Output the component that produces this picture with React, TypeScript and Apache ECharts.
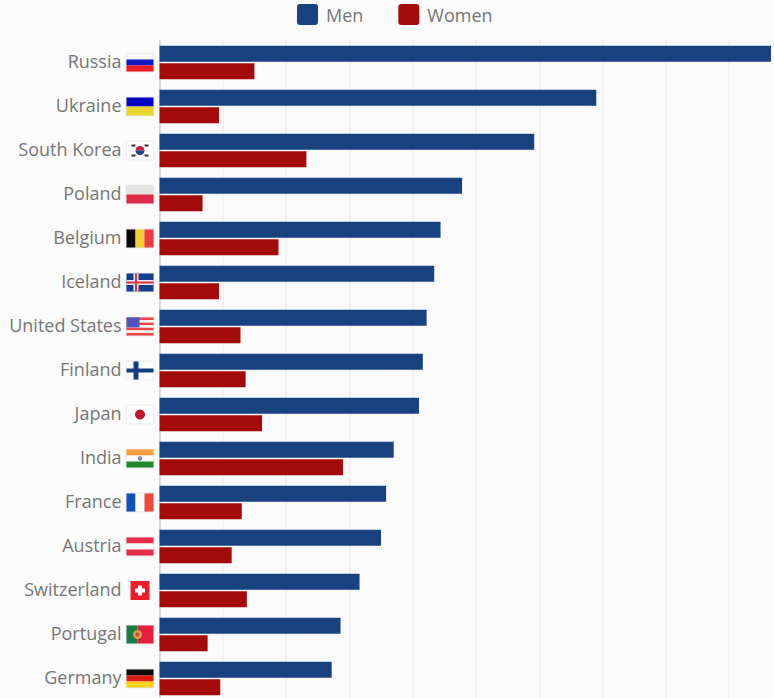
import React, { useEffect, useRef } from "react";
import * as echarts from "echarts";

const countries = ["Russia", "Ukraine", "South Korea", "Poland", "Belgium", "Iceland", "United States", "Finland", "Japan", "India", "France", "Austria", "Switzerland", "Portugal", "Germany"];
const men = [48.3, 34.5, 29.6, 23.9, 22.2, 21.7, 21.1, 20.8, 20.5, 18.5, 17.9, 17.5, 15.8, 14.3, 13.6];
const women = [7.5, 4.7, 11.6, 3.4, 9.4, 4.7, 6.4, 6.8, 8.1, 14.5, 6.5, 5.7, 6.9, 3.8, 4.8];

const FW = 27;
const FH = 18;
const rect = (x: number, y: number, width: number, height: number, fill: string) => ({
  type: "rect", shape: { x, y, width, height }, style: { fill },
});
const circle = (cx: number, cy: number, r: number, fill: string) => ({
  type: "circle", shape: { cx, cy, r }, style: { fill },
});
const hBands = (colors: string[]) => colors.map((c, i) => rect(0, (i * FH) / colors.length, FW, FH / colors.length, c));
const vBands = (colors: string[]) => colors.map((c, i) => rect((i * FW) / colors.length, 0, FW / colors.length, FH, c));

// Each flag is built from simple shapes in a 27x18 local box.
const flags: Record<string, () => any[]> = {
  Russia: () => hBands(["#f8f8f8", "#0b18c4", "#ee1c25"]),
  Ukraine: () => hBands(["#0606c4", "#ecd52c"]),
  "South Korea": () => [
    rect(0, 0, FW, FH, "#ffffff"),
    { type: "sector", shape: { cx: 13.5, cy: 9, r: 4.5, startAngle: Math.PI, endAngle: 2 * Math.PI }, style: { fill: "#c8203a" } },
    { type: "sector", shape: { cx: 13.5, cy: 9, r: 4.5, startAngle: 0, endAngle: Math.PI }, style: { fill: "#1c3f94" } },
    rect(5, 3, 4, 2, "#333333"), rect(18, 3, 4, 2, "#333333"),
    rect(5, 13, 4, 2, "#333333"), rect(18, 13, 4, 2, "#333333"),
  ],
  Poland: () => hBands(["#e4e4e4", "#dc2c48"]),
  Belgium: () => vBands(["#0a0a0a", "#f4cd32", "#ef3b40"]),
  Iceland: () => [
    rect(0, 0, FW, FH, "#12408c"),
    rect(7, 0, 5, FH, "#e8e8f0"), rect(0, 6.5, FW, 5, "#e8e8f0"),
    rect(8.5, 0, 2, FH, "#d8343c"), rect(0, 8, FW, 2, "#d8343c"),
  ],
  "United States": () => [
    ...hBands(["#ee4444", "#f8f8f8", "#ee4444", "#f8f8f8", "#ee4444", "#f8f8f8", "#ee4444"]),
    rect(0, 0, 13, 10, "#5353c0"),
  ],
  Finland: () => [
    rect(0, 0, FW, FH, "#ffffff"),
    rect(7, 0, 5, FH, "#123c80"), rect(0, 7, FW, 4, "#123c80"),
  ],
  Japan: () => [rect(0, 0, FW, FH, "#ffffff"), circle(13.5, 9, 5, "#c4122f")],
  India: () => [...hBands(["#ff9d3c", "#ffffff", "#1e8c2a"]), circle(13.5, 9, 2.4, "#8890b8")],
  France: () => vBands(["#1450b8", "#ffffff", "#ee4a3c"]),
  Austria: () => hBands(["#e92c48", "#ffffff", "#e92c48"]),
  Switzerland: () => [
    rect(4, -0.5, 19, 19, "#ee1c25"),
    rect(11.5, 4, 4, 10, "#ffffff"), rect(8.5, 7, 10, 4, "#ffffff"),
  ],
  Portugal: () => [
    rect(0, 0, 11, FH, "#1c7c46"), rect(11, 0, 16, FH, "#e6203c"),
    circle(11, 9, 4.5, "#d4a24a"), circle(11, 9, 2.2, "#c8503c"),
  ],
  Germany: () => hBands(["#0a0a0a", "#dd1a10", "#ffcf20"]),
};

const LABEL_COLOR = "#767676";
const FONT = "'Open Sans'";
const LEGEND_ICON = "path://M3 0H18A3 3 0 0 1 21 3V18A3 3 0 0 1 18 21H3A3 3 0 0 1 0 18V3A3 3 0 0 1 3 0Z";

export default function App() {
  const ref = useRef<HTMLDivElement>(null);

  useEffect(() => {
    const chart = echarts.init(ref.current!, undefined, { renderer: "svg" });
    chart.setOption({
      animation: false,
      backgroundColor: "#fbfbfb",
      textStyle: { fontFamily: FONT },
      legend: {
        data: ["Men", "Women"],
        left: 297,
        top: 4,
        padding: 0,
        itemWidth: 21,
        itemHeight: 21,
        itemGap: 35,
        icon: LEGEND_ICON,
        textStyle: { color: LABEL_COLOR, fontSize: 18, fontFamily: FONT, padding: [0, 0, 0, 3] },
      },
      grid: { left: 159.5, top: 40.5, width: 633, height: 660 },
      xAxis: {
        type: "value",
        min: 0,
        max: 50,
        interval: 5,
        axisLabel: { show: false },
        axisTick: { show: false },
        axisLine: { show: false },
        splitLine: { show: true, lineStyle: { color: "#efefef", width: 1.5 } },
      },
      yAxis: {
        type: "category",
        inverse: true,
        data: countries,
        axisTick: { show: false },
        axisLine: { show: true, lineStyle: { color: "#dcdcdc", width: 2 } },
        // A short line box anchored at its bottom lifts the text just above the band centre.
        axisLabel: { margin: 38, color: LABEL_COLOR, fontSize: 18, fontFamily: FONT, verticalAlign: "bottom", lineHeight: 3 },
      },
      series: [
        { name: "Men", type: "bar", data: men, barWidth: 16, barGap: "10%", itemStyle: { color: "#17417f" } },
        { name: "Women", type: "bar", data: women, barWidth: 16, itemStyle: { color: "#a50a0a" } },
        {
          type: "custom",
          silent: true,
          clip: false,
          data: countries.map((_, i) => [0, i]),
          encode: { x: 0, y: 1 },
          renderItem: (params: any, api: any) => {
            const [x0, yc] = api.coord([0, api.value(1)]);
            const name = countries[params.dataIndex];
            const framed = name !== "Switzerland";
            return {
              type: "group",
              x: x0 - 33,
              y: yc - FH / 2,
              children: [
                ...(framed
                  ? [{ type: "rect", shape: { x: -0.75, y: -0.75, width: FW + 1.5, height: FH + 1.5 }, style: { fill: "#e2e2e2" } }]
                  : []),
                ...flags[name](),
              ],
            };
          },
        },
      ],
    });
    return () => chart.dispose();
  }, []);

  // The plot runs past the visible frame on the right and bottom, so the chart
  // canvas is larger than the frame that clips it.
  return (
    <div style={{ position: "fixed", left: 0, top: 0, width: 774, height: 698, overflow: "hidden", background: "#fbfbfb" }}>
      <div ref={ref} style={{ width: 800, height: 720 }} />
    </div>
  );
}
